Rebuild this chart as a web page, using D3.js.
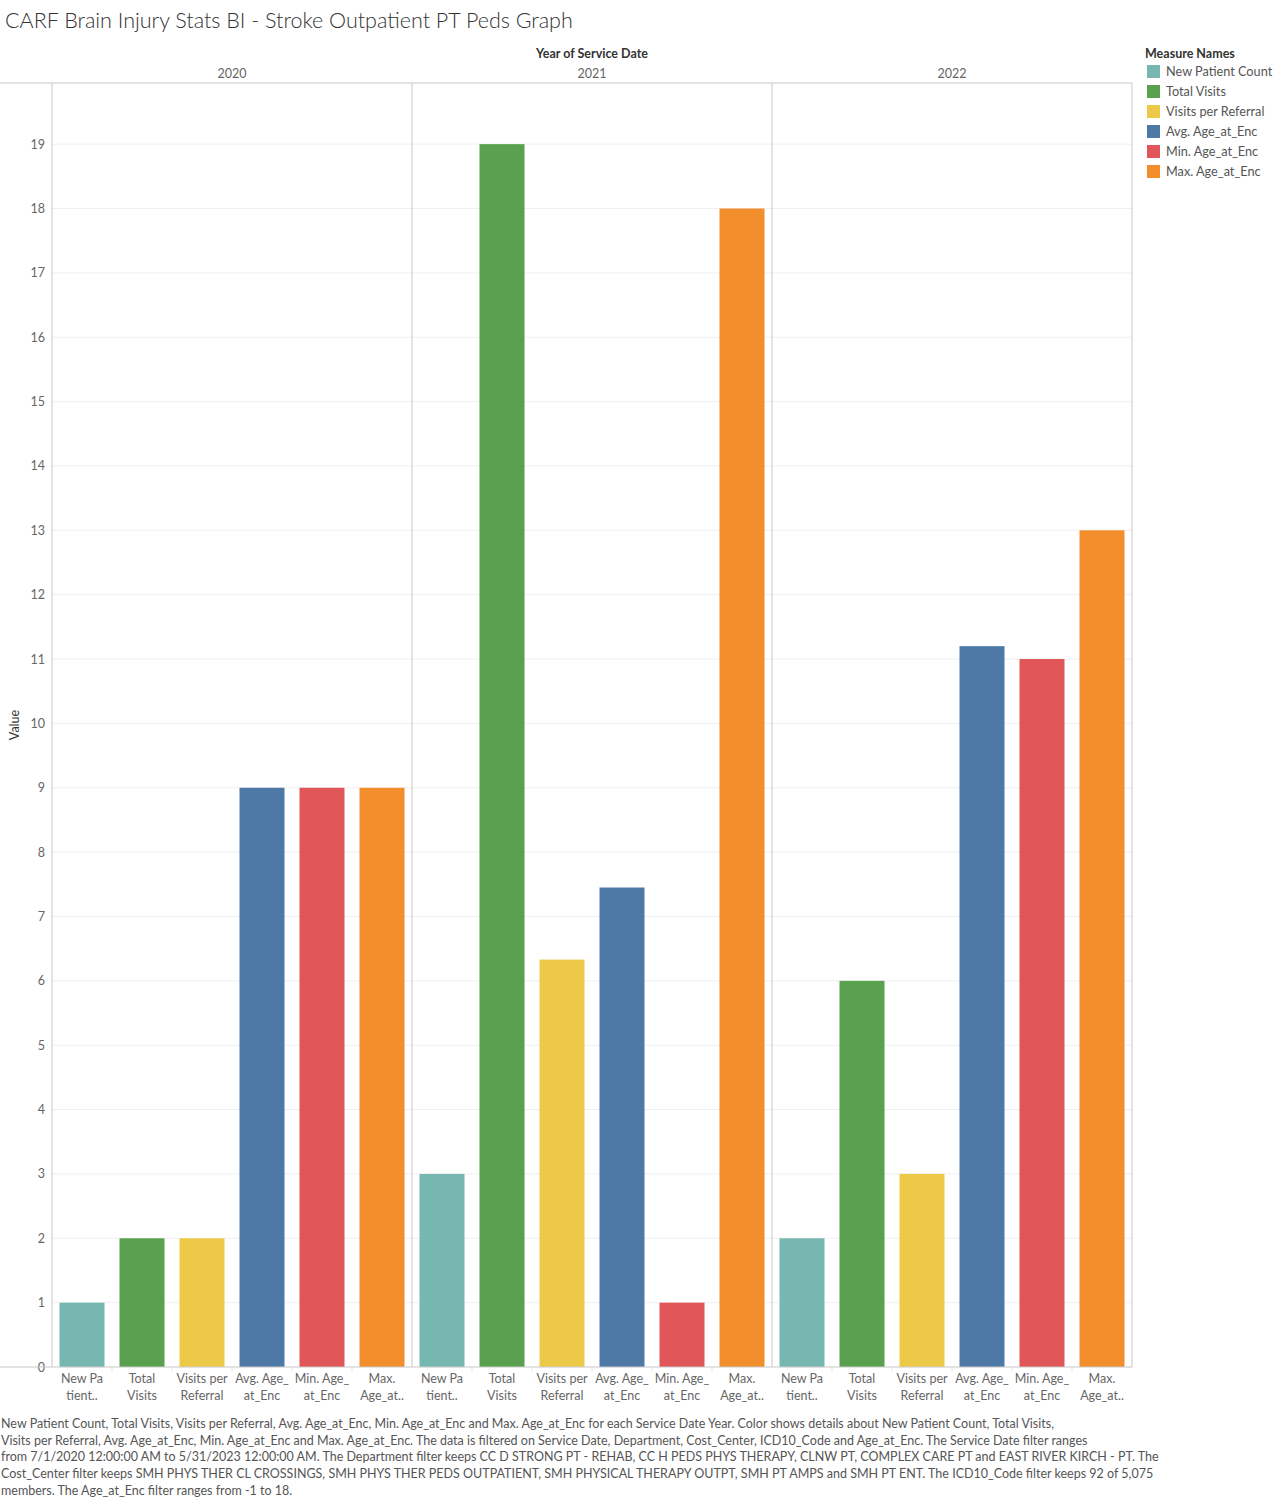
<!DOCTYPE html>
<html>
<head>
<meta charset="utf-8">
<script src="https://cdn.jsdelivr.net/npm/d3@7"></script>
<style>
  body { margin: 0; background: #fff; }
  svg { font-family: Lato, "Open Sans", sans-serif; }
</style>
</head>
<body>
<svg id="chart"></svg>
<script>
const years = ["2020", "2021", "2022"];
const measures = ["New Patient Count", "Total Visits", "Visits per Referral",
  "Avg. Age_at_Enc", "Min. Age_at_Enc", "Max. Age_at_Enc"];
const measureLabels = [["New Pa", "tient.."], ["Total", "Visits"], ["Visits per", "Referral"],
  ["Avg. Age_", "at_Enc"], ["Min. Age_", "at_Enc"], ["Max.", "Age_at.."]];
const colors = ["#76B7B2", "#59A14F", "#EDC948", "#4E79A7", "#E15759", "#F28E2B"];

const newPatient = [1, 3, 2];
const totalVisits = [2, 19, 6];
const visitsPerReferral = [2, 6.33, 3];
const avgAge = [9, 7.45, 11.2];
const minAge = [9, 1, 11];
const maxAge = [9, 18, 13];
const yTicks = d3.range(0, 20);

const caption = [
  "New Patient Count, Total Visits, Visits per Referral, Avg. Age_at_Enc, Min. Age_at_Enc and Max. Age_at_Enc for each Service Date Year.  Color shows details about New Patient Count, Total Visits,",
  "Visits per Referral, Avg. Age_at_Enc, Min. Age_at_Enc and Max. Age_at_Enc. The data is filtered on Service Date, Department, Cost_Center, ICD10_Code and Age_at_Enc. The Service Date filter ranges",
  "from 7/1/2020 12:00:00 AM to 5/31/2023 12:00:00 AM. The Department filter keeps CC D STRONG PT - REHAB, CC H PEDS PHYS THERAPY, CLNW PT, COMPLEX CARE PT and EAST RIVER KIRCH - PT. The",
  "Cost_Center filter keeps SMH PHYS THER CL CROSSINGS, SMH PHYS THER PEDS OUTPATIENT, SMH PHYSICAL THERAPY OUTPT, SMH PT AMPS and SMH PT ENT. The ICD10_Code filter keeps 92 of 5,075",
  "members. The Age_at_Enc filter ranges from -1 to 18."
];

const series = [newPatient, totalVisits, visitsPerReferral, avgAge, minAge, maxAge];
const data = [];
years.forEach((y, yi) => measures.forEach((m, mi) => {
  data.push({ year: y, measure: m, value: series[mi][yi], color: colors[mi] });
}));

const width = 1284, height = 1501;
const plot = { left: 52, right: 1132, top: 83, bottom: 1367 };

const svg = d3.select("#chart")
  .attr("width", width)
  .attr("height", height)
  .attr("viewBox", [0, 0, width, height]);

// title
svg.append("text")
  .attr("x", 5).attr("y", 28)
  .attr("font-size", 21.5)
  .attr("font-weight", 300)
  .attr("fill", "#333")
  .text("CARF Brain Injury Stats BI - Stroke Outpatient PT Peds Graph");

const xYear = d3.scaleBand().domain(years).range([plot.left, plot.right]);
const xMeasure = d3.scaleBand().domain(measures).range([0, xYear.bandwidth()])
  .paddingInner(0.25).paddingOuter(0.125);
const y = d3.scaleLinear().domain([0, 19.95]).range([plot.bottom, plot.top]);

// gridlines
svg.append("g")
  .selectAll("line")
  .data(yTicks.filter(d => d > 0))
  .join("line")
    .attr("x1", plot.left).attr("x2", plot.right)
    .attr("y1", d => y(d)).attr("y2", d => y(d))
    .attr("stroke", "#f0f0f0");

// y axis
svg.append("g")
  .attr("transform", `translate(${plot.left},0)`)
  .call(d3.axisLeft(y).tickValues(yTicks).tickSize(0).tickPadding(7))
  .call(g => {
    g.select(".domain").remove();
    g.selectAll("text").attr("fill", "#666").attr("font-size", 12.5)
      .attr("font-family", "Lato, sans-serif");
  });

svg.append("text")
  .attr("transform", `translate(19,${(plot.top + plot.bottom) / 2}) rotate(-90)`)
  .attr("text-anchor", "middle")
  .attr("font-size", 12.5)
  .attr("fill", "#333")
  .text("Value");

// bars
const panels = svg.append("g").selectAll("g")
  .data(years)
  .join("g")
    .attr("transform", d => `translate(${xYear(d)},0)`);

panels.selectAll("rect")
  .data(yr => data.filter(d => d.year === yr))
  .join("rect")
    .attr("x", d => xMeasure(d.measure))
    .attr("width", xMeasure.bandwidth())
    .attr("y", d => y(d.value))
    .attr("height", d => y(0) - y(d.value))
    .attr("fill", d => d.color);

// x labels
panels.each(function() {
  const g = d3.select(this);
  const step = xMeasure.step();
  g.selectAll(".sep")
    .data(measures.slice(1))
    .join("line")
      .attr("class", "sep")
      .attr("x1", d => xMeasure(d) - xMeasure.paddingInner() * step / 2)
      .attr("x2", d => xMeasure(d) - xMeasure.paddingInner() * step / 2)
      .attr("y1", plot.bottom).attr("y2", plot.bottom + 5)
      .attr("stroke", "#e6e6e6");
  const lab = g.selectAll(".xlab")
    .data(measures)
    .join("text")
      .attr("class", "xlab")
      .attr("text-anchor", "middle")
      .attr("font-size", 12.5)
      .attr("fill", "#666");
  lab.selectAll("tspan")
    .data((d, i) => measureLabels[i].map(t => ({ t, x: xMeasure(d) + xMeasure.bandwidth() / 2 })))
    .join("tspan")
      .attr("x", d => d.x)
      .attr("y", (d, i) => plot.bottom + 16 + i * 17)
      .text(d => d.t);
});

// panel borders
svg.append("g")
  .selectAll("line")
  .data(years.map(d => xYear(d)).concat([plot.right]))
  .join("line")
    .attr("x1", d => d).attr("x2", d => d)
    .attr("y1", plot.top).attr("y2", plot.bottom)
    .attr("stroke", "#c8c8c8");

svg.append("line")
  .attr("x1", 0).attr("x2", plot.right)
  .attr("y1", plot.top).attr("y2", plot.top)
  .attr("stroke", "#c8c8c8");
svg.append("line")
  .attr("x1", 0).attr("x2", plot.right)
  .attr("y1", plot.bottom).attr("y2", plot.bottom)
  .attr("stroke", "#c8c8c8");

// column header
svg.append("text")
  .attr("x", (plot.left + plot.right) / 2).attr("y", 58)
  .attr("text-anchor", "middle")
  .attr("font-size", 12.5).attr("font-weight", "bold")
  .attr("fill", "#333")
  .text("Year of Service Date");

svg.append("g")
  .selectAll("text")
  .data(years)
  .join("text")
    .attr("x", d => xYear(d) + xYear.bandwidth() / 2)
    .attr("y", 78)
    .attr("text-anchor", "middle")
    .attr("font-size", 12.5)
    .attr("fill", "#666")
    .text(d => d);

// legend
svg.append("text")
  .attr("x", 1145).attr("y", 58)
  .attr("font-size", 12.5).attr("font-weight", "bold")
  .attr("fill", "#333")
  .text("Measure Names");

const leg = svg.append("g").selectAll("g")
  .data(measures)
  .join("g")
    .attr("transform", (d, i) => `translate(1147,${65 + i * 20})`);
leg.append("rect")
  .attr("width", 13).attr("height", 13)
  .attr("fill", (d, i) => colors[i]);
leg.append("text")
  .attr("x", 19).attr("y", 11)
  .attr("font-size", 12.7)
  .attr("fill", "#555")
  .text(d => d);

// caption
svg.append("g")
  .selectAll("text")
  .data(caption)
  .join("text")
    .attr("x", 1)
    .attr("y", (d, i) => 1428 + i * 16.7)
    .attr("font-size", 12.5)
    .attr("fill", "#555")
    .text(d => d);
</script>
</body>
</html>
